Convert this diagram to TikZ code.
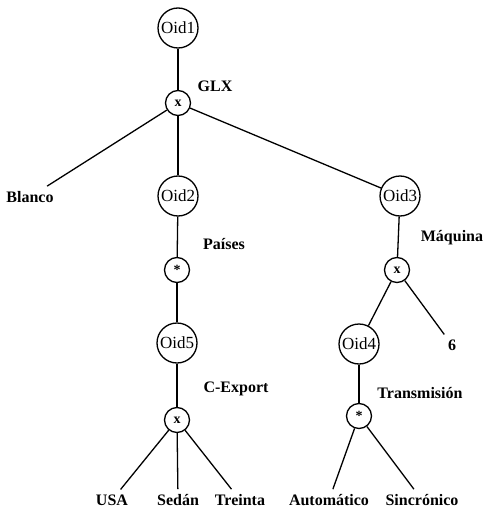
\documentclass[tikz,border=0pt]{standalone}
\usepackage{fontspec}
\setmainfont{Liberation Serif}
\usepackage{tikz}

\tikzset{
  obj/.style={draw,circle,line width=1.3pt,inner sep=0pt,minimum size=40pt,
    font=\fontsize{17}{19}\selectfont},
  op/.style={draw,circle,line width=1.3pt,inner sep=0pt,minimum size=25pt,
    font=\fontsize{14}{16}\selectfont\bfseries},
  leaf/.style={inner sep=5pt,font=\fontsize{16}{18}\selectfont\bfseries},
  attr/.style={inner sep=0pt,font=\fontsize{16}{18}\selectfont\bfseries},
  arc/.style={line width=1.3pt}
}

\begin{document}
\begin{tikzpicture}[x=1pt,y=-1pt]
\useasboundingbox (0,0) rectangle (483,511);

% objects and operators
\node[obj] (oid1) at (178,28) {Oid1};
\node[op]  (glx)  at (178,103) {x};
\node[obj] (oid2) at (178,196) {Oid2};
\node[obj] (oid3) at (400,196) {Oid3};
\node[op]  (pai)  at (177,270) {*};
\node[op]  (maq)  at (397,270) {x};
\node[obj] (oid5) at (177,343) {Oid5};
\node[obj] (oid4) at (359,344) {Oid4};
\node[op]  (cexp) at (177,420) {x};
\node[op]  (tra)  at (359,416) {*};

% atomic values
\node[leaf] (blanco) at (30,197)  {Blanco};
\node[leaf] (seis)   at (452,345) {6};
\node[leaf] (usa)    at (112,500) {USA};
\node[leaf] (sedan)  at (178,500) {Sedán};
\node[leaf] (treinta) at (240,500) {Treinta};
\node[leaf] (auto)   at (329,500) {Automático};
\node[leaf] (sincro) at (422,500) {Sincrónico};

% attribute names
\node[attr] at (215,86)  {GLX};
\node[attr] at (224,244) {Países};
\node[attr] at (452,238) {Máquina};
\node[attr] at (236,389) {C-Export};
\node[attr] at (420,393) {Transmisión};

\draw[arc] (oid1) -- (glx);
\draw[arc] (glx) -- (blanco);
\draw[arc] (glx) -- (oid2);
\draw[arc] (glx) -- (oid3);
\draw[arc] (oid2) -- (pai);
\draw[arc] (pai) -- (oid5);
\draw[arc] (oid3) -- (maq);
\draw[arc] (maq) -- (oid4);
\draw[arc] (maq) -- (seis);
\draw[arc] (oid5) -- (cexp);
\draw[arc] (oid4) -- (tra);
\draw[arc] (cexp) -- (usa);
\draw[arc] (cexp) -- (sedan);
\draw[arc] (cexp) -- (treinta);
\draw[arc] (tra) -- (auto);
\draw[arc] (tra) -- (sincro);
\end{tikzpicture}
\end{document}
